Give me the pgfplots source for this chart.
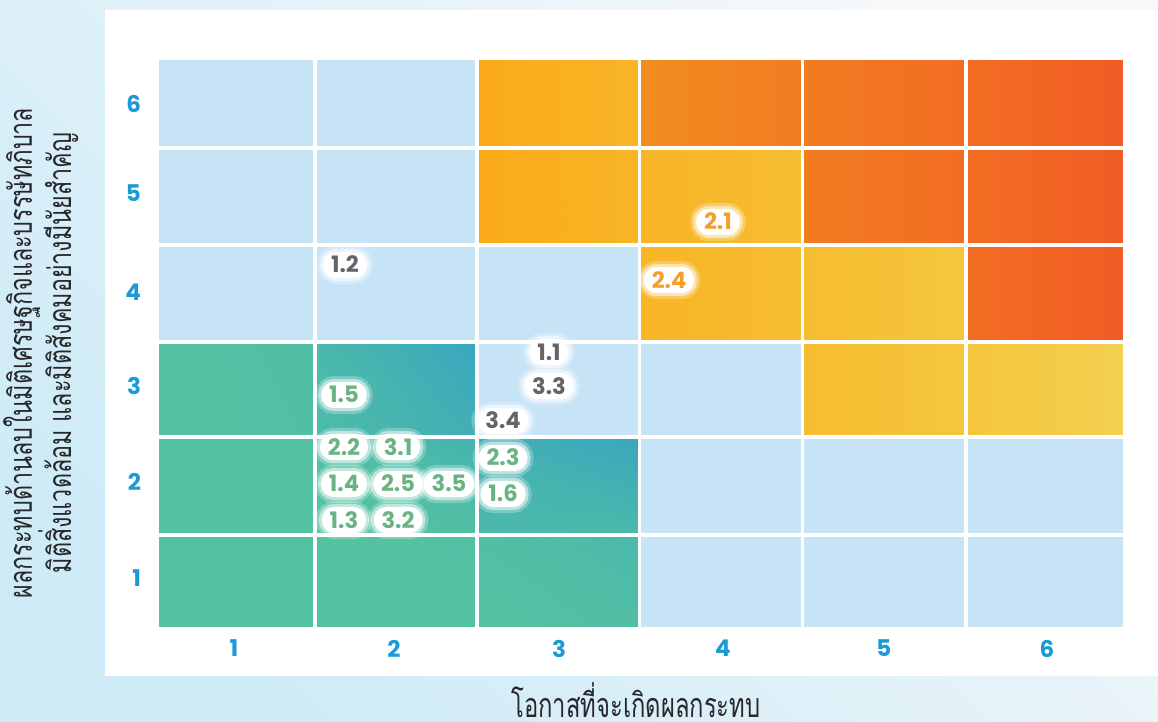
\documentclass[border=0pt]{standalone}
\usepackage{fontspec}
\usepackage{pgfplots}
\pgfplotsset{compat=1.18}
\usepgfplotslibrary{patchplots}
\newfontfamily\numfont{Poppins}
\newfontfamily\thaifont[Script=Thai,FakeStretch=0.70]{Loma}
\newfontfamily\thaifontY[Script=Thai,FakeStretch=0.73]{Loma}
\definecolor{tickblue}{RGB}{27,154,214}
\definecolor{lblgray}{RGB}{100,101,106}
\definecolor{lblgreen}{RGB}{106,179,131}
\definecolor{lblorange}{RGB}{245,158,45}
\definecolor{ytext}{RGB}{40,40,42}
\definecolor{bgll}{RGB}{206,235,247}
\definecolor{bgur}{RGB}{246,248,250}
\tikzset{
 pill/.style={anchor=center, font=\numfont\bfseries\fontsize{11.3}{12}\selectfont,
   fill=white, rounded corners=6.5pt, inner xsep=4pt, inner ysep=2.6pt,
   text height=8pt, text depth=0pt,
   preaction={draw=white, draw opacity=0.25, line width=6pt},
   preaction={draw=white, draw opacity=0.5, line width=3pt}},
}
\pgfplotsset{
 colormap={lb}{rgb255=(199,228,247) rgb255=(199,228,247)},
 colormap={grn}{rgb255=(84,194,161) rgb255=(58,166,191)},
 colormap={yel}{rgb255=(250,170,26) rgb255=(248,181,38) rgb255=(246,189,48) rgb255=(245,198,60) rgb255=(243,208,82)},
 colormap={org}{rgb255=(242,140,32) rgb255=(242,124,33) rgb255=(242,109,35) rgb255=(240,92,36)},
 cells/.style={patch, patch type=rectangle, shader=faceted interp, faceted color=white,
   line width=1.8pt, point meta=explicit},
}
\begin{document}
\begin{tikzpicture}
\path[use as bounding box] (0,0) rectangle (579pt,361pt);
\clip (0,0) rectangle (579pt,361pt);
\shade[left color=bgll, right color=bgur, shading angle=135] (0,0) rectangle (579pt,361pt);
\fill[white] (52.5pt,23pt) rectangle (579pt,356pt);
\begin{axis}[
 at={(78.5pt,46.5pt)}, anchor=south west,
 scale only axis, width=484pt, height=285.5pt,
 xmin=0.5, xmax=6.5, ymin=0.5, ymax=6.5,
 axis line style={draw=none},
 major tick length=0pt,
 xtick={0.977,1.969,2.992,4.008,5.006,6.017},
 xticklabels={1,2,3,4,5,6},
 ytick={1.036,2.045,3.053,4.041,5.081,6.016},
 yticklabels={1,2,3,4,5,6},
 ticklabel style={font=\numfont\bfseries\fontsize{11.5}{12}\selectfont, text=tickblue},
 xticklabel style={yshift=-2pt},
 yticklabel style={xshift=-4.5pt},
 point meta min=0, point meta max=1,
 clip=false,
]
% light blue cells
\addplot[cells, colormap name=lb] table[meta=c] {
x y c
0.5 5.555 0
1.48 5.555 0
1.48 6.5 0
0.5 6.5 0
1.48 5.555 0
2.485 5.555 0
2.485 6.5 0
1.48 6.5 0
0.5 4.535 0
1.48 4.535 0
1.48 5.555 0
0.5 5.555 0
1.48 4.535 0
2.485 4.535 0
2.485 5.555 0
1.48 5.555 0
0.5 3.515 0
1.48 3.515 0
1.48 4.535 0
0.5 4.535 0
1.48 3.515 0
2.485 3.515 0
2.485 4.535 0
1.48 4.535 0
2.485 3.515 0
3.49 3.515 0
3.49 4.535 0
2.485 4.535 0
2.485 2.515 0
3.49 2.515 0
3.49 3.515 0
2.485 3.515 0
3.49 2.515 0
4.5 2.515 0
4.5 3.515 0
3.49 3.515 0
3.49 1.49 0
4.5 1.49 0
4.5 2.515 0
3.49 2.515 0
4.5 1.49 0
5.515 1.49 0
5.515 2.515 0
4.5 2.515 0
5.515 1.49 0
6.5 1.49 0
6.5 2.515 0
5.515 2.515 0
3.49 0.5 0
4.5 0.5 0
4.5 1.49 0
3.49 1.49 0
4.5 0.5 0
5.515 0.5 0
5.515 1.49 0
4.5 1.49 0
5.515 0.5 0
6.5 0.5 0
6.5 1.49 0
5.515 1.49 0
};
% green / teal cells
\addplot[cells, colormap name=grn] table[meta=c] {
x y c
0.5 0.5 0
1.48 0.5 0
1.48 1.49 0
0.5 1.49 0
1.48 0.5 0
2.485 0.5 0
2.485 1.49 0.08
1.48 1.49 0
2.485 0.5 0
3.49 0.5 0.12
3.49 1.49 0.35
2.485 1.49 0.1
0.5 1.49 0
1.48 1.49 0
1.48 2.515 0.05
0.5 2.515 0
1.48 1.49 0
2.485 1.49 0.1
2.485 2.515 0.55
1.48 2.515 0.12
2.485 1.49 0.3
3.49 1.49 0.35
3.49 2.515 1
2.485 2.515 0.65
0.5 2.515 0
1.48 2.515 0.1
1.48 3.515 0.15
0.5 3.515 0
1.48 2.515 0.22
2.485 2.515 0.7
2.485 3.515 1
1.48 3.515 0.35
};
% yellow cells
\addplot[cells, colormap name=yel] table[meta=c] {
x y c
2.485 5.555 0
3.49 5.555 0.25
3.49 6.5 0.25
2.485 6.5 0
2.485 4.535 0
3.49 4.535 0.25
3.49 5.555 0.25
2.485 5.555 0
3.49 4.535 0.25
4.5 4.535 0.5
4.5 5.555 0.5
3.49 5.555 0.25
3.49 3.515 0.25
4.5 3.515 0.5
4.5 4.535 0.5
3.49 4.535 0.25
4.5 3.515 0.5
5.515 3.515 0.75
5.515 4.535 0.75
4.5 4.535 0.5
4.5 2.515 0.5
5.515 2.515 0.75
5.515 3.515 0.75
4.5 3.515 0.5
5.515 2.515 0.75
6.5 2.515 1
6.5 3.515 1
5.515 3.515 0.75
};
% orange cells
\addplot[cells, colormap name=org] table[meta=c] {
x y c
3.49 5.555 0
4.5 5.555 0.333
4.5 6.5 0.333
3.49 6.5 0
4.5 5.555 0.333
5.515 5.555 0.667
5.515 6.5 0.667
4.5 6.5 0.333
5.515 5.555 0.667
6.5 5.555 1
6.5 6.5 1
5.515 6.5 0.667
4.5 4.535 0.333
5.515 4.535 0.667
5.515 5.555 0.667
4.5 5.555 0.333
5.515 4.535 0.667
6.5 4.535 1
6.5 5.555 1
5.515 5.555 0.667
5.515 3.515 0.667
6.5 3.515 1
6.5 4.535 1
5.515 4.535 0.667
};
% risk labels
\addplot[only marks, mark=none, point meta=explicit symbolic, nodes near coords,
  nodes near coords style={pill, text=lblgray}] table[meta=l] {
x y l
1.665 4.325 1.2
2.93 3.41 1.1
2.93 3.053 3.3
2.645 2.686 3.4
};
\addplot[only marks, mark=none, point meta=explicit symbolic, nodes near coords,
  nodes near coords style={pill, text=lblgreen}] table[meta=l] {
x y l
1.659 2.959 1.5
1.659 2.412 2.2
1.994 2.412 3.1
1.659 2.024 1.4
1.994 2.024 2.5
2.31 2.024 3.5
1.659 1.645 1.3
1.994 1.645 3.2
2.645 2.297 2.3
2.645 1.919 1.6
};
\addplot[only marks, mark=none, point meta=explicit symbolic, nodes near coords,
  nodes near coords style={pill, text=lblorange}] table[meta=l] {
x y l
3.977 4.777 2.1
3.674 4.167 2.4
};
\end{axis}
\node[rotate=90, anchor=base, font=\thaifontY\fontsize{16}{19}\selectfont, text=ytext]
  at (16pt,184.5pt) {ผลกระทบด้านลบในมิติเศรษฐกิจและบรรษัทภิบาล};
\node[rotate=90, anchor=base, font=\thaifontY\fontsize{16}{19}\selectfont, text=ytext]
  at (35.5pt,184.5pt) {มิติสิ่งแวดล้อม และมิติสังคมอย่างมีนัยสำคัญ};
\node[anchor=base, font=\thaifont\fontsize{17}{20}\selectfont, text=ytext]
  at (318pt,2pt) {โอกาสที่จะเกิดผลกระทบ};
\end{tikzpicture}
\end{document}
